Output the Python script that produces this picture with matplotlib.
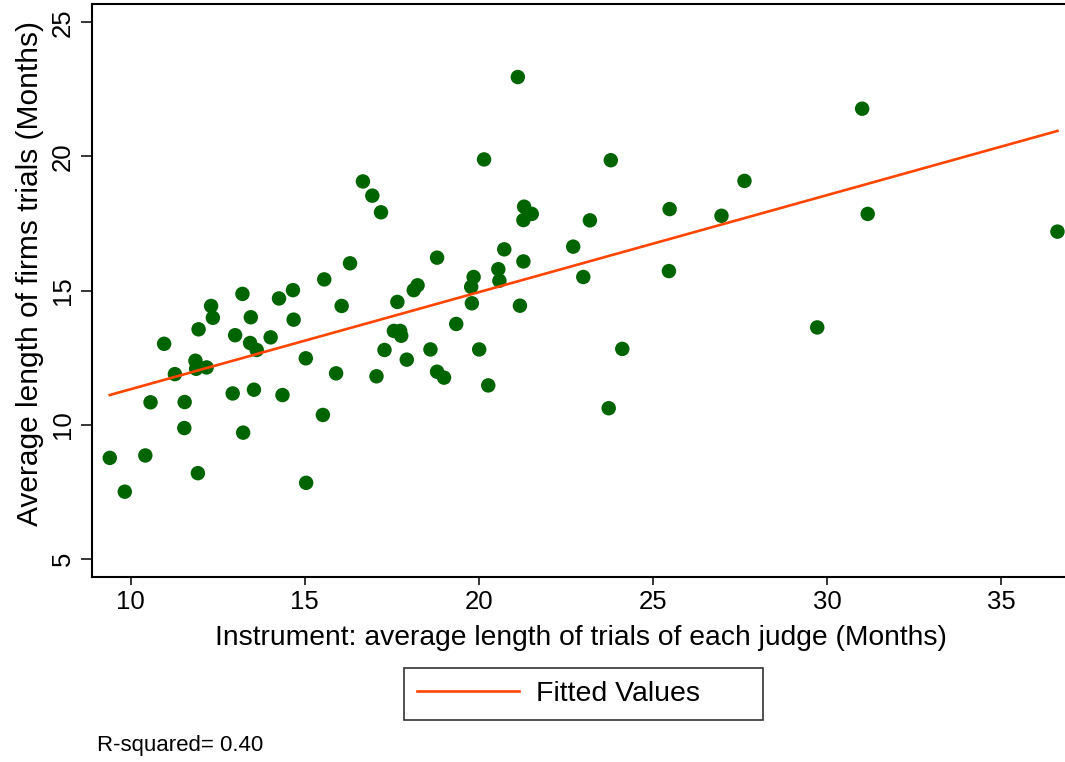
import numpy as np
import matplotlib
matplotlib.use("Agg")
import matplotlib.pyplot as plt

plt.rcParams["font.family"] = ["Liberation Sans", "DejaVu Sans"]

# Average length of trials of each judge (months) -- the instrument
judge_len = [
    15.56, 13.21, 14.66, 14.26, 12.31, 12.36, 13.45, 14.68, 11.95, 13.00,
    10.96, 13.43, 13.62, 14.02, 15.03, 11.86, 11.88, 12.18, 11.27, 15.90,
    12.93, 13.54, 14.36, 10.57, 11.55, 15.52, 11.54, 13.23, 9.40, 10.42,
    11.93, 9.83, 15.04, 16.67, 16.94, 17.19, 18.80, 16.30, 18.13, 18.24,
    16.06, 17.66, 17.56, 17.74, 17.77, 19.35, 17.29, 17.93, 18.61, 17.06,
    18.80, 19.00, 21.12, 20.15, 23.79, 21.30, 21.52, 21.28, 23.19, 20.73,
    22.71, 21.28, 20.56, 20.59, 19.85, 19.78, 23.00, 19.80, 21.18, 31.01,
    27.63, 25.48, 26.97, 31.17, 36.62, 25.46, 29.72, 24.12, 23.73, 20.01,
    20.27,
]

# Average length of the firms' trials (months)
firm_len = [
    15.42, 14.88, 15.02, 14.71, 14.43, 13.99, 14.01, 13.92, 13.56, 13.34,
    13.02, 13.05, 12.79, 13.26, 12.48, 12.39, 12.09, 12.14, 11.89, 11.92,
    11.17, 11.31, 11.11, 10.84, 10.85, 10.37, 9.88, 9.71, 8.77, 8.86,
    8.20, 7.51, 7.84, 19.07, 18.54, 17.92, 16.23, 16.02, 15.02, 15.20,
    14.43, 14.58, 13.50, 13.50, 13.32, 13.76, 12.79, 12.43, 12.81, 11.81,
    11.98, 11.76, 22.96, 19.89, 19.86, 18.13, 17.86, 17.63, 17.62, 16.54,
    16.64, 16.09, 15.80, 15.37, 15.51, 15.14, 15.51, 14.53, 14.44, 21.78,
    19.09, 18.04, 17.79, 17.86, 17.20, 15.73, 13.63, 12.83, 10.62, 12.81,
    11.47,
]

x_ticks = [10, 15, 20, 25, 30, 35]
y_ticks = [5, 10, 15, 20, 25]
r_squared_text = "R-squared= 0.40"

x = np.asarray(judge_len)
y = np.asarray(firm_len)

# OLS line over the observed range of the instrument
slope, intercept = np.polyfit(x, y, 1)
x_fit = np.array([x.min(), x.max()])
y_fit = intercept + slope * x_fit

W, H = 1065, 762
fig = plt.figure(figsize=(W / 100, H / 100), dpi=100)
fig.patch.set_facecolor("white")

left_px, right_px, top_px, bottom_px = 91.7, 1070.0, 4.3, 576.5
ax = fig.add_axes([left_px / W, 1 - bottom_px / H,
                   (right_px - left_px) / W, (bottom_px - top_px) / H])

ax.scatter(x, y, s=108, color="#006400", edgecolors="none", zorder=3)
ax.plot(x_fit, y_fit, color="#FF4500", lw=1.9, zorder=4, label="Fitted Values")

ax.set_xlim(8.88, 36.98)
ax.set_ylim(4.35, 25.67)
ax.set_xticks(x_ticks)
ax.set_yticks(y_ticks)

for s in ax.spines.values():
    s.set_linewidth(1.5)
    s.set_color("black")

ax.tick_params(axis="x", direction="out", length=5.4, width=1.1,
               labelsize=18.5, pad=4)
ax.tick_params(axis="y", direction="out", length=7.9, width=1.1,
               labelsize=18.5, pad=4)
for lab in ax.get_yticklabels():
    lab.set_rotation(90)
    lab.set_va("center")

ax.set_xlabel("Instrument: average length of trials of each judge (Months)",
              fontsize=20.3, labelpad=8)
ax.set_ylabel("Average length of firms trials (Months)", fontsize=21.5)
ax.yaxis.set_label_coords(-0.049, (bottom_px - 274) / (bottom_px - top_px))

leg = fig.legend(loc="lower left",
                 bbox_to_anchor=(404 / W, 1 - 720 / H, (763 - 404) / W, 52 / H),
                 mode="expand", fontsize=20.5, frameon=True, fancybox=False,
                 edgecolor="black", handlelength=3.6, handletextpad=0.6,
                 borderpad=0.45, borderaxespad=0.0)
leg.get_frame().set_linewidth(1.2)

fig.text(97 / W, 1 - 745 / H, r_squared_text, fontsize=16, va="center", ha="left")

fig.savefig("out.png", dpi=100, facecolor="white")
